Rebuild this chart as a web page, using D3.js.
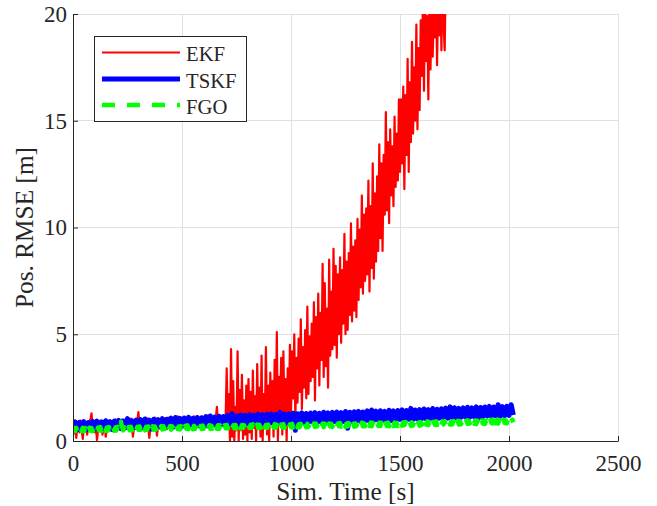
<!DOCTYPE html>
<html>
<head>
<meta charset="utf-8">
<script src="https://cdn.jsdelivr.net/npm/d3@7"></script>
<style>
  body { margin: 0; background: #ffffff; }
  svg { display: block; }
  text { font-family: "Liberation Serif", "Times New Roman", serif; }
</style>
</head>
<body>
<svg id="chart" width="657" height="506"></svg>
<script>
// Axis ticks
const xTicks = [0, 500, 1000, 1500, 2000, 2500];
const yTicks = [0, 5, 10, 15, 20];

// Series names (legend order = draw order)
const seriesNames = ["EKF", "TSKF", "FGO"];

// Sampling interval of each logged series [s]
const ekfStep = 5;
const tskfStep = 10;
const fgoStep = 5;

// EKF position RMSE [m], every 5 s from t = 0 (one row = 100 s)
const ekfRmse = [
  0.6, 0.35, 0.8, 0.15, 0.7, 0.9, 0.4, 0.95, 0.5, 0.1, 0.75, 0.55, 0.85, 0.3, 0.7, 0.95, 1.0, 1.3, 0.6, 0.8,
  0.4, 0.7, 0.05, 0.5, 0.8, 0.45, 0.9, 0.3, 0.6, 0.95, 0.2, 0.55, 0.8, 0.5, 0.85, 0.65, 0.9, 0.45, 0.7, 1.0,
  0.45, 0.8, 0.6, 0.9, 0.55, 1.0, 0.7, 0.5, 0.85, 0.6, 0.95, 0.55, 0.75, 1.05, 0.65, 0.2, 0.7, 0.9, 0.6, 0.95,
  1.35, 0.7, 0.5, 0.9, 1.0, 0.6, 0.45, 0.85, 1.05, 0.7, 0.15, 0.6, 0.95, 0.75, 0.55, 1.1, 0.8, 0.25, 0.7, 0.9,
  1.0, 0.75, 0.6, 0.95, 1.05, 0.7, 0.55, 0.9, 1.1, 0.8, 0.6, 0.95, 1.0, 0.75, 0.65, 0.9, 1.15, 0.8, 0.6, 0.95,
  1.05, 0.7, 0.65, 0.95, 1.1, 0.8, 0.6, 0.9, 1.0, 0.75, 0.7, 1.15, 0.85, 0.65, 0.95, 1.05, 0.8, 0.7, 1.1, 0.85,
  1.1, 0.75, 0.65, 0.95, 1.2, 0.8, 0.7, 1.0, 1.1, 0.85, 0.75, 1.05, 1.6, 0.9, 0.7, 1.0, 1.15, 0.8, 0.75, 1.0,
  1.0, 3.4, 0.6, 2.2, 0.0, 4.3, 0.2, 2.8, 0.0, 1.6, 0.5, 4.2, 0.0, 2.4, 0.5, 3.1, 0.1, 1.9, 0.3, 2.6,
  0.0, 2.9, 0.4, 2.3, 0.1, 3.3, 0.6, 2.1, 0.0, 3.6, 0.7, 2.5, 0.2, 4.0, 0.0, 2.2, 0.8, 4.4, 0.3, 2.6,
  0.0, 3.2, 0.9, 2.8, 0.2, 3.8, 1.1, 5.1, 0.0, 3.0, 1.5, 3.9, 0.3, 4.2, 1.2, 2.9, 0.0, 3.4, 1.0, 4.5,
  1.2, 4.2, 2.0, 5.0, 1.0, 3.9, 1.8, 4.8, 2.3, 5.7, 1.5, 4.4, 2.5, 5.2, 2.0, 6.3, 2.2, 4.9, 2.8, 5.5,
  3.0, 6.5, 1.9, 5.8, 3.4, 6.9, 2.6, 6.0, 3.8, 8.3, 3.0, 7.4, 3.5, 6.2, 2.5, 8.5, 4.0, 7.0, 4.3, 9.0,
  4.5, 8.2, 3.9, 7.8, 5.0, 8.6, 4.6, 8.0, 5.5, 9.7, 5.0, 8.4, 5.2, 8.8, 5.9, 10.2, 5.6, 9.1, 6.1, 9.4,
  5.8, 10.4, 6.6, 9.9, 7.2, 11.5, 6.9, 10.6, 7.5, 10.9, 7.8, 12.2, 7.0, 11.0, 8.1, 13.0, 7.6, 11.6, 8.4, 12.4,
  8.9, 13.9, 9.5, 13.0, 8.9, 13.4, 10.6, 15.4, 10.8, 14.0, 10.2, 14.6, 11.5, 13.8, 11.0, 15.2, 11.9, 14.4, 12.2, 16.0,
  12.6, 16.0, 13.0, 16.6, 11.8, 16.2, 13.4, 17.9, 12.6, 16.8, 14.0, 18.7, 14.4, 17.5, 15.0, 19.5, 14.6, 18.4, 15.5, 19.7,
  17.1, 20.6, 16.4, 21.0, 17.8, 19.9, 16.0, 20.8, 17.4, 21.2, 18.0, 20.5, 18.9, 21.5, 17.6, 20.9, 19.0, 21.8, 18.3, 22.0,
  19.5, 18.3, 22.0, 23.0, 24.0
];

// TSKF position RMSE [m], every 10 s from t = 0 (one row = 100 s)
const tskfRmse = [
  0.56, 0.9, 0.52, 0.87, 0.57, 0.91, 0.53, 0.86, 0.55, 0.92,
  0.57, 0.93, 0.55, 0.9, 0.6, 0.95, 0.56, 0.91, 0.54, 0.94,
  0.6, 0.97, 0.58, 0.94, 0.62, 1.05, 0.59, 0.95, 0.61, 0.98,
  0.63, 1.0, 0.61, 1.03, 0.65, 0.98, 0.56, 1.02, 0.64, 1.0,
  0.66, 1.05, 0.64, 1.02, 0.68, 1.07, 0.65, 1.1, 0.67, 1.06,
  0.69, 1.08, 0.67, 1.11, 0.7, 1.06, 0.68, 1.1, 0.71, 1.09,
  0.73, 1.14, 0.71, 1.17, 0.74, 1.12, 0.72, 1.16, 0.75, 1.15,
  0.76, 1.2, 0.74, 1.28, 0.77, 1.18, 0.75, 1.22, 0.78, 1.2,
  0.79, 1.24, 0.72, 1.21, 0.8, 1.26, 0.78, 1.23, 0.81, 1.25,
  0.82, 1.27, 0.8, 1.24, 0.83, 1.34, 0.81, 1.26, 0.84, 1.28,
  0.85, 1.3, 0.5, 1.28, 0.86, 1.32, 0.84, 1.29, 0.87, 1.31,
  0.88, 1.33, 0.86, 1.3, 0.89, 1.35, 0.87, 1.32, 0.9, 1.34,
  0.91, 1.36, 0.89, 1.33, 0.92, 1.38, 0.6, 1.35, 0.93, 1.37,
  0.94, 1.39, 0.92, 1.36, 0.95, 1.41, 0.93, 1.45, 0.96, 1.4,
  0.97, 1.42, 0.95, 1.39, 0.9, 1.44, 0.96, 1.41, 0.99, 1.43,
  1.01, 1.46, 0.99, 1.43, 1.02, 1.53, 1.0, 1.45, 1.03, 1.47,
  1.05, 1.5, 1.03, 1.47, 1.06, 1.52, 1.04, 1.49, 1.07, 1.51,
  1.09, 1.54, 1.07, 1.6, 1.1, 1.56, 1.08, 1.53, 1.11, 1.55,
  1.13, 1.58, 1.11, 1.55, 1.14, 1.6, 1.05, 1.57, 1.15, 1.59,
  1.17, 1.62, 1.15, 1.59, 1.18, 1.7, 1.16, 1.61, 1.19, 1.63,
  1.2, 1.7, 1.22
];

// FGO position RMSE [m], every 5 s from t = 0 (one row = 100 s)
const fgoRmse = [
  0.47, 0.62, 0.46, 0.61, 0.48, 0.63, 0.46, 0.6, 0.47, 0.62, 0.45, 0.61, 0.47, 0.63, 0.46, 0.62, 0.48, 0.6, 0.46, 0.62,
  0.49, 0.64, 0.48, 0.63, 0.5, 0.65, 0.48, 0.62, 0.49, 0.64, 0.47, 0.63, 0.49, 0.65, 0.48, 0.64, 0.5, 0.62, 0.48, 0.64,
  0.51, 0.66, 0.5, 0.65, 0.9, 0.67, 0.5, 0.64, 0.51, 0.66, 0.49, 0.65, 0.51, 0.67, 0.5, 0.66, 0.52, 0.64, 0.5, 0.66,
  0.53, 0.68, 0.52, 0.67, 0.54, 0.69, 0.52, 0.66, 0.53, 0.68, 0.51, 0.67, 0.53, 0.69, 0.52, 0.68, 0.54, 0.66, 0.52, 0.68,
  0.55, 0.7, 0.54, 0.69, 0.56, 0.71, 0.54, 0.68, 0.55, 0.7, 0.53, 0.69, 0.55, 0.71, 0.54, 0.7, 0.56, 0.68, 0.54, 0.7,
  0.57, 0.72, 0.56, 0.71, 0.58, 0.73, 0.56, 0.78, 0.57, 0.72, 0.55, 0.71, 0.57, 0.73, 0.56, 0.72, 0.58, 0.7, 0.56, 0.72,
  0.58, 0.73, 0.57, 0.72, 0.59, 0.74, 0.57, 0.71, 0.58, 0.73, 0.56, 0.72, 0.58, 0.74, 0.57, 0.73, 0.59, 0.71, 0.57, 0.73,
  0.6, 0.75, 0.59, 0.74, 0.61, 0.76, 0.59, 0.73, 0.6, 0.75, 0.58, 0.74, 0.6, 0.76, 0.59, 0.75, 0.61, 0.73, 0.59, 0.75,
  0.62, 0.77, 0.61, 0.76, 0.63, 0.78, 0.61, 0.75, 0.62, 0.77, 0.6, 0.76, 0.62, 0.78, 0.61, 0.77, 0.63, 0.75, 0.61, 0.77,
  0.63, 0.78, 0.62, 0.77, 0.64, 0.79, 0.62, 0.76, 0.63, 0.78, 0.61, 0.77, 0.63, 0.79, 0.62, 0.78, 0.64, 0.76, 0.62, 0.78,
  0.65, 0.8, 0.64, 0.79, 0.66, 0.81, 0.64, 0.78, 0.65, 0.8, 0.63, 0.79, 0.65, 0.81, 0.64, 0.8, 0.66, 0.78, 0.64, 0.8,
  0.67, 0.82, 0.66, 0.81, 0.68, 0.83, 0.66, 0.8, 0.67, 0.82, 0.65, 0.81, 0.67, 0.88, 0.66, 0.82, 0.68, 0.8, 0.66, 0.82,
  0.68, 0.83, 0.67, 0.82, 0.69, 0.84, 0.67, 0.81, 0.68, 0.83, 0.66, 0.82, 0.68, 0.84, 0.67, 0.83, 0.69, 0.81, 0.67, 0.83,
  0.7, 0.85, 0.69, 0.84, 0.71, 0.86, 0.69, 0.83, 0.7, 0.85, 0.68, 0.84, 0.7, 0.86, 0.69, 0.85, 0.71, 0.83, 0.69, 0.85,
  0.71, 0.86, 0.7, 0.85, 0.72, 0.87, 0.7, 0.84, 0.71, 0.86, 0.69, 0.85, 0.71, 0.87, 0.7, 0.86, 0.72, 0.84, 0.7, 0.86,
  0.73, 0.88, 0.72, 0.87, 0.74, 0.89, 0.72, 0.86, 0.73, 0.88, 0.71, 0.87, 0.73, 0.89, 0.72, 0.88, 0.74, 0.86, 0.72, 0.88,
  0.76, 0.91, 0.75, 0.96, 0.77, 0.92, 0.75, 0.89, 0.76, 0.91, 0.74, 0.9, 0.76, 0.92, 0.75, 0.91, 0.77, 0.89, 0.75, 0.91,
  0.78, 0.93, 0.77, 0.92, 0.79, 0.94, 0.77, 0.91, 0.78, 0.93, 0.76, 0.92, 0.78, 0.94, 0.77, 0.93, 0.79, 0.91, 0.77, 0.93,
  0.81, 0.96, 0.8, 0.95, 0.82, 0.97, 0.8, 0.94, 0.81, 0.96, 0.79, 0.95, 0.81, 0.97, 0.8, 0.96, 0.82, 0.94, 0.8, 0.96,
  0.84, 0.99, 0.83, 0.98, 0.85, 1.0, 0.62, 0.97, 0.84, 0.99, 0.82, 0.98, 0.84, 1.0, 0.83, 0.99, 0.85, 0.97, 0.83, 0.99,
  0.85, 1.01, 0.86, 1.0, 0.87
];

const axisColor = "#262626";
const gridColor = "#e0e0e0";

const svg = d3.select("#chart");
const plot = { left: 73, right: 618, top: 14, bottom: 441 };

const x = d3.scaleLinear().domain([0, 2500]).range([plot.left, plot.right]);
const y = d3.scaleLinear().domain([0, 20]).range([plot.bottom, plot.top]);

// Grid
const grid = svg.append("g").attr("stroke", gridColor).attr("stroke-width", 1).attr("shape-rendering", "crispEdges");
grid.selectAll("line.v").data(xTicks).join("line")
  .attr("x1", d => x(d)).attr("x2", d => x(d))
  .attr("y1", plot.top).attr("y2", plot.bottom);
grid.selectAll("line.h").data(yTicks).join("line")
  .attr("x1", plot.left).attr("x2", plot.right)
  .attr("y1", d => y(d)).attr("y2", d => y(d));

// Clip region for the data lines
svg.append("defs").append("clipPath").attr("id", "plotClip")
  .append("rect")
  .attr("x", plot.left).attr("y", plot.top)
  .attr("width", plot.right - plot.left).attr("height", plot.bottom - plot.top);

const toPoints = (vals, step) => vals.map((v, i) => [i * step, v]);
const line = d3.line().x(d => x(d[0])).y(d => y(d[1]));

const series = [
  { name: seriesNames[0], pts: toPoints(ekfRmse, ekfStep), color: "#ff0000", width: 2.2, dash: null },
  { name: seriesNames[1], pts: toPoints(tskfRmse, tskfStep), color: "#0000ff", width: 5, dash: null },
  { name: seriesNames[2], pts: toPoints(fgoRmse, fgoStep), color: "#00ff00", width: 4.5, dash: "13,12" }
];

const lines = svg.append("g").attr("clip-path", "url(#plotClip)");
series.forEach(s => {
  lines.append("path")
    .attr("d", line(s.pts))
    .attr("fill", "none")
    .attr("stroke", s.color)
    .attr("stroke-width", s.width)
    .attr("stroke-linejoin", "round")
    .attr("stroke-dasharray", s.dash);
});

// Axes (ticks point inward)
const xAxis = svg.append("g")
  .attr("transform", `translate(0,${plot.bottom})`)
  .call(d3.axisBottom(x).tickValues(xTicks).tickSizeInner(-5).tickSizeOuter(0).tickPadding(14).tickFormat(d3.format("d")));
const yAxis = svg.append("g")
  .attr("transform", `translate(${plot.left},0)`)
  .call(d3.axisLeft(y).tickValues(yTicks).tickSizeInner(-5).tickSizeOuter(0).tickPadding(6).tickFormat(d3.format("d")));

[xAxis, yAxis].forEach(a => {
  a.select(".domain").attr("stroke", axisColor).attr("stroke-width", 1);
  a.selectAll(".tick line").attr("stroke", axisColor);
  a.selectAll(".tick text")
    .attr("fill", axisColor)
    .style("font-size", "23px")
    .style("font-family", '"Liberation Serif", "Times New Roman", serif');
});
// x tick labels sit just below the axis
xAxis.selectAll(".tick text").attr("y", 14).attr("dy", "0.71em");

// Axis titles
svg.append("text")
  .attr("x", (plot.left + plot.right) / 2)
  .attr("y", 500)
  .attr("text-anchor", "middle")
  .attr("fill", axisColor)
  .style("font-size", "25.3px")
  .text("Sim. Time [s]");

svg.append("text")
  .attr("transform", `translate(33,${(plot.top + plot.bottom) / 2}) rotate(-90)`)
  .attr("text-anchor", "middle")
  .attr("fill", axisColor)
  .style("font-size", "25.3px")
  .text("Pos. RMSE [m]");

// Legend
const legend = svg.append("g");
legend.append("rect")
  .attr("x", 94.5).attr("y", 36.5).attr("width", 152).attr("height", 85)
  .attr("fill", "#ffffff").attr("stroke", axisColor).attr("stroke-width", 1);
const legendRows = [52.5, 79, 105];
series.forEach((s, i) => {
  const ly = legendRows[i];
  legend.append("line")
    .attr("x1", 102).attr("x2", 180).attr("y1", ly).attr("y2", ly)
    .attr("stroke", s.color).attr("stroke-width", s.width)
    .attr("stroke-dasharray", s.dash);
  legend.append("text")
    .attr("x", 186).attr("y", ly + 8.5)
    .attr("fill", axisColor)
    .style("font-size", "20.7px")
    .text(s.name);
});
</script>
</body>
</html>
